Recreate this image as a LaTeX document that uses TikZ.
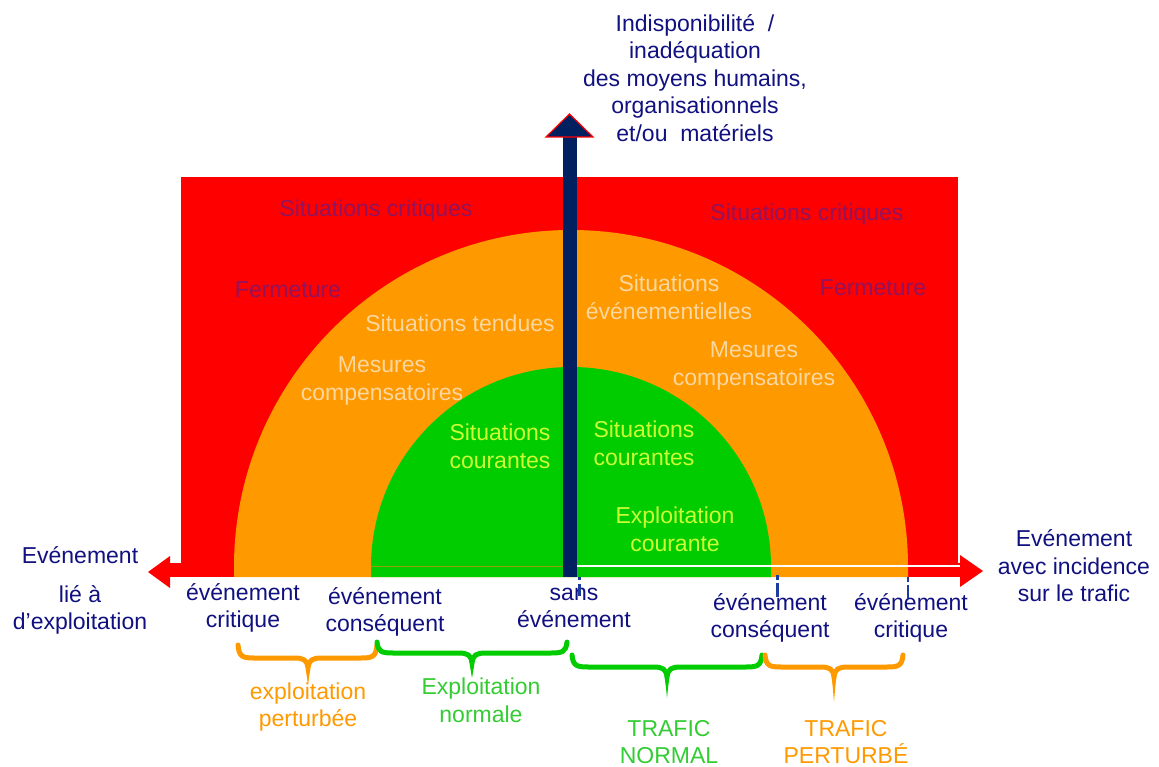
\documentclass[tikz,border=0pt]{standalone}
\usepackage{fontspec}
\setmainfont{Liberation Sans}
\definecolor{cRed}{RGB}{255,0,0}
\definecolor{cOrange}{RGB}{255,153,0}
\definecolor{cGreen}{RGB}{0,204,0}
\definecolor{cNavy}{RGB}{0,32,96}
\definecolor{cText}{RGB}{16,16,128}
\definecolor{cRedTxt}{RGB}{145,20,95}
\definecolor{cOrTxt}{RGB}{250,215,160}
\definecolor{cGrTxt}{RGB}{204,255,51}
\definecolor{cGrLbl}{RGB}{51,204,51}
\definecolor{cTick}{RGB}{30,60,160}
\definecolor{cOlive}{RGB}{150,160,0}
\begin{document}
\begin{tikzpicture}[x=1pt,y=-1pt,
  lbl/.style={font=\fontsize{23}{27.6}\selectfont, align=center, inner sep=0pt},
  navytxt/.style={lbl, text=cText},
  redtxt/.style={lbl, text=cRedTxt},
  ortxt/.style={lbl, text=cOrTxt},
  grtxt/.style={lbl, text=cGrTxt},
  bracestyle/.style={line width=5pt, line cap=round},
  tickstyle/.style={draw=cTick, line width=2.5pt}]
\useasboundingbox (0,0) rectangle (1159,767);
% zones
\fill[cRed] (181,177) rectangle (958,577);
\fill[cRed] (170,563) rectangle (960,577);
\fill[cRed] (148,572) -- (170,556) -- (170,588) -- cycle;
\fill[cRed] (983,571) -- (960,555) -- (960,587) -- cycle;
\fill[cOrange] (234,577) -- (234,567) arc[start angle=180,end angle=360,radius=337] -- (908,577) -- cycle;
\fill[cGreen] (371,577) -- (371,567) arc[start angle=180,end angle=360,radius=200] -- (771,577) -- cycle;
\draw[cOlive, line width=1pt] (371,566.5) -- (563,566.5);
\draw[white, line width=1.5pt] (577,566) -- (960,566);
% vertical axis
\fill[cNavy] (563,137) rectangle (577,577);
\filldraw[fill=cNavy, draw=cRed, line width=1.2pt] (546,137) -- (569.5,114) -- (593,137) -- cycle;
% ticks
\draw[tickstyle] (777.5,575) -- (777.5,580) (777.5,583) -- (777.5,597);
\draw[tickstyle] (908,577) -- (908,582) (908,585) -- (908,598);
% top label
\node[navytxt] (top) at (695,78) {Indisponibilité~~/\\inadéquation\\des moyens humains,\\organisationnels\\et/ou~~matériels};
% red zone labels
\node[redtxt] (scl) at (376,211) {Situations critiques};
\node[redtxt] (fl) at (288,290) {Fermeture};
\node[redtxt] (scr) at (807,215) {Situations critiques};
\node[redtxt] (fr) at (873,288) {Fermeture};
% orange zone labels
\node[ortxt] (stl) at (460,323) {Situations tendues};
\node[ortxt] (mcl) at (382,381) {Mesures\\compensatoires};
\node[ortxt] (ser) at (669,297) {Situations\\événementielles};
\node[ortxt] (mcr) at (754,366) {Mesures\\compensatoires};
% green zone labels
\node[grtxt] (scgl) at (500,446) {Situations\\courantes};
\node[grtxt] (scgr) at (644,443) {Situations\\courantes};
\node[grtxt] (ecr) at (675,529) {Exploitation\\courante};
% axis labels
\node[navytxt] (evl) at (80,555) {Evénement};
\node[navytxt] (lie) at (80,610) {lié à\\d’exploitation};
\node[navytxt] (evr) at (1074,566) {Evénement\\avec incidence\\sur le trafic};
\node[navytxt] (ec1) at (243,608) {événement\\critique};
\node[navytxt] (eq1) at (385,612) {événement\\conséquent};
\node[navytxt] (se) at (574,608) {sans\\événement};
\node[navytxt] (eq2) at (770,618) {événement\\conséquent};
\node[navytxt] (ec2) at (911,618) {événement\\critique};
\draw[tickstyle] (579.5,577) -- (579.5,580) (579.5,584) -- (579.5,596);
% braces
\draw[bracestyle, cOrange] (238,645) .. controls (239,657) and (243,658) .. (254,658) -- (294,658) .. controls (304,658) and (307,660) .. (308,668)
  .. controls (309,660) and (312,658) .. (322,658) -- (361,658) .. controls (372,658) and (376,657) .. (377,645);
\fill[cOrange] (305.5,664) -- (308,685) -- (310.5,664) -- cycle;
\draw[bracestyle, cGreen] (377,642) .. controls (378,652) and (382,653) .. (393,653) -- (458,653) .. controls (468,653) and (471,655) .. (472,663)
  .. controls (473,655) and (476,653) .. (486,653) -- (551,653) .. controls (562,653) and (566,652) .. (567,642);
\fill[cGreen] (469.5,659) -- (472,677) -- (474.5,659) -- cycle;
\draw[bracestyle, cGreen] (572,655) .. controls (573,666) and (577,667) .. (588,667) -- (653,667) .. controls (663,667) and (666,669) .. (667,677)
  .. controls (668,669) and (671,667) .. (681,667) -- (746,667) .. controls (757,667) and (761,666) .. (762,655);
\fill[cGreen] (664.5,673) -- (667,698) -- (669.5,673) -- cycle;
\draw[bracestyle, cOrange] (765,655) .. controls (766,666) and (770,667) .. (781,667) -- (820,667) .. controls (830,667) and (833,669) .. (834,677)
  .. controls (835,669) and (838,667) .. (848,667) -- (887,667) .. controls (898,667) and (902,666) .. (903,655);
\fill[cOrange] (831.5,673) -- (834,702) -- (836.5,673) -- cycle;
% brace labels
\node[lbl, text=cOrange] (ep) at (308,707) {exploitation\\perturbée};
\node[lbl, text=cGrLbl] (en) at (481,700) {Exploitation\\normale};
\node[lbl, text=cGrLbl] (tn) at (669,742) {TRAFIC\\NORMAL};
\node[lbl, text=cOrange] (tp) at (846,742) {TRAFIC\\PERTURBÉ};
\end{tikzpicture}
\end{document}
